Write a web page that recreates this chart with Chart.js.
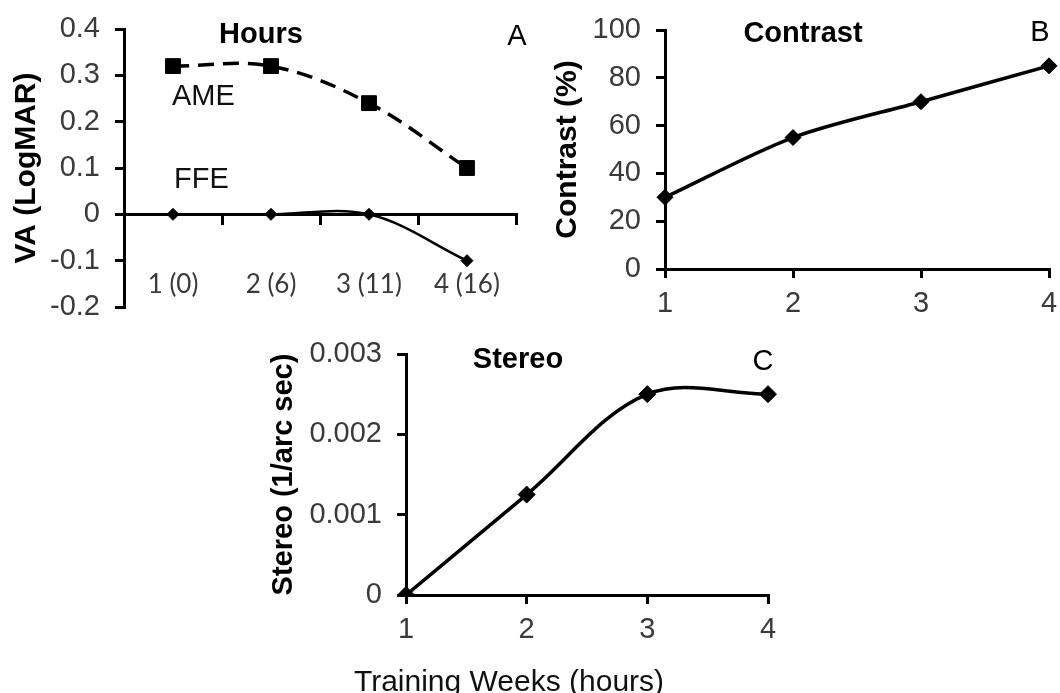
<!DOCTYPE html>
<html>
<head>
<meta charset="utf-8">
<script src="https://cdn.jsdelivr.net/npm/chart.js@4/dist/chart.umd.min.js"></script>
<style>
  html, body { margin: 0; padding: 0; background: #fff; }
  body { width: 1060px; height: 693px; position: relative; overflow: hidden; }
  canvas { position: absolute; }
  #cA { left: 0; top: 0; }
  #cB { left: 530px; top: 0; }
  #cC { left: 255px; top: 330px; }
</style>
</head>
<body>
<canvas id="cA" width="530" height="330"></canvas>
<canvas id="cB" width="530" height="330"></canvas>
<canvas id="cC" width="545" height="363"></canvas>
<script>
// ---- data ----
const weeksHours = ['1 (0)', '2 (6)', '3 (11)', '4 (16)'];
const ameVA = [0.32, 0.32, 0.24, 0.10];
const ffeVA = [0, 0, 0, -0.1];
const weeks = ['1', '2', '3', '4'];
const contrastPct = [30, 55, 70, 85];
const stereoInvArcSec = [0, 0.00125, 0.0025, 0.0025];
const vaRange = [-0.2, 0.4, 0.1];
const contrastRange = [0, 100, 20];
const stereoRange = [0, 0.003, 0.001];

// ---- styling ----
const FONT = "'Liberation Sans', Arial, sans-serif";
const TICK_COLOR = '#3a3a3a';
const textLabels = {
  id: 'textLabels',
  afterDraw(chart, args, opts) {
    const ctx = chart.ctx;
    ctx.save();
    (opts.items || []).forEach(it => {
      ctx.font = it.font;
      ctx.fillStyle = it.color || '#000';
      ctx.textAlign = it.align || 'center';
      ctx.textBaseline = 'middle';
      ctx.fillText(it.text, it.x, it.y);
    });
    ctx.restore();
  }
};

function axisGrid(extra) {
  return Object.assign({
    drawOnChartArea: false, drawTicks: true, tickLength: 9,
    lineWidth: 3, color: '#000'
  }, extra || {});
}
const border = { display: true, width: 3, color: '#000' };
const fmt = v => String(+Number(v).toFixed(4));
function fixSize(prop, val) {
  return s => {
    if (prop) s[prop] = val;
    s.paddingLeft = 0; s.paddingRight = 0; s.paddingTop = 0; s.paddingBottom = 0;
  };
}

// ---- Chart A ----
new Chart(document.getElementById('cA'), {
  type: 'line',
  data: {
    labels: weeksHours,
    datasets: [
      { label: 'AME', data: ameVA, borderColor: '#000', backgroundColor: '#000',
        borderWidth: 3.5, borderDash: [16, 9], tension: 0.35,
        pointStyle: 'rect', pointRadius: 10.5, pointBorderWidth: 1 },
      { label: 'FFE', data: ffeVA, borderColor: '#000', backgroundColor: '#000',
        borderWidth: 2.5, tension: 0.35,
        pointStyle: 'rectRot', pointRadius: 6, pointBorderWidth: 1 }
    ]
  },
  options: {
    responsive: false, animation: false,
    layout: { padding: { left: 0, top: 29, right: 14, bottom: 23 } },
    plugins: {
      legend: { display: false }, tooltip: { enabled: false },
      textLabels: { items: [
        { text: 'Hours', x: 261, y: 35, font: 'bold 29px ' + FONT },
        { text: 'A', x: 517, y: 37, font: '29px ' + FONT },
        { text: 'AME', x: 172, y: 97, font: '29px ' + FONT, align: 'left', color: '#111' },
        { text: 'FFE', x: 174, y: 180, font: '29px ' + FONT, align: 'left', color: '#111' }
      ] }
    },
    scales: {
      x: {
        type: 'category', offset: true, position: { y: 0 },
        grid: axisGrid({ offset: true }), border: border,
        ticks: { font: { family: "Lato, 'Open Sans', sans-serif", size: 26 }, color: TICK_COLOR, padding: 46 },
        afterFit: fixSize(null)
      },
      y: {
        min: vaRange[0], max: vaRange[1],
        grid: axisGrid(), border: border,
        ticks: { stepSize: vaRange[2], font: { family: FONT, size: 29 }, color: TICK_COLOR, padding: 15,
                 callback: v => fmt(Math.round(v * 10) / 10) },
        title: { display: true, text: 'VA (LogMAR)', color: '#000',
                 font: { family: FONT, size: 30, weight: 'bold' }, padding: { top: 9, bottom: 0 } },
        afterFit: fixSize('width', 124)
      }
    }
  },
  plugins: [textLabels]
});

// ---- Chart B ----
new Chart(document.getElementById('cB'), {
  type: 'line',
  data: {
    labels: weeks,
    datasets: [
      { label: 'Contrast', data: contrastPct, borderColor: '#000', backgroundColor: '#000',
        borderWidth: 3.5, tension: 0.3,
        pointStyle: 'rectRot', pointRadius: 8, pointBorderWidth: 1 }
    ]
  },
  options: {
    responsive: false, animation: false,
    layout: { padding: { left: 0, top: 30, right: 11, bottom: 0 } },
    plugins: {
      legend: { display: false }, tooltip: { enabled: false },
      textLabels: { items: [
        { text: 'Contrast', x: 273, y: 34, font: 'bold 29px ' + FONT },
        { text: 'B', x: 510, y: 33, font: '29px ' + FONT }
      ] }
    },
    scales: {
      x: {
        type: 'category', offset: false,
        grid: axisGrid(), border: border,
        ticks: { font: { family: FONT, size: 29 }, color: TICK_COLOR, padding: 9 },
        afterFit: fixSize('height', 61)
      },
      y: {
        min: contrastRange[0], max: contrastRange[1],
        grid: axisGrid(), border: border,
        ticks: { stepSize: contrastRange[2], font: { family: FONT, size: 29 }, color: TICK_COLOR, padding: 15,
                 callback: v => fmt(v) },
        title: { display: true, text: 'Contrast (%)', color: '#000',
                 font: { family: FONT, size: 30, weight: 'bold' }, padding: { top: 20, bottom: 0 } },
        afterFit: fixSize('width', 135)
      }
    }
  },
  plugins: [textLabels]
});

// ---- Chart C ----
new Chart(document.getElementById('cC'), {
  type: 'line',
  data: {
    labels: weeks,
    datasets: [
      { label: 'Stereo', data: stereoInvArcSec, borderColor: '#000', backgroundColor: '#000',
        borderWidth: 3.5, tension: 0.35,
        pointStyle: 'rectRot', pointRadius: 8.5, pointBorderWidth: 1 }
    ]
  },
  options: {
    responsive: false, animation: false,
    layout: { padding: { left: 0, top: 24, right: 32, bottom: 0 } },
    plugins: {
      legend: { display: false }, tooltip: { enabled: false },
      textLabels: { items: [
        { text: 'Stereo', x: 263, y: 30, font: 'bold 29px ' + FONT },
        { text: 'C', x: 508, y: 32, font: '29px ' + FONT },
        { text: 'Training Weeks (hours)', x: 254, y: 353, font: '30px ' + FONT, color: '#111' }
      ] }
    },
    scales: {
      x: {
        type: 'category', offset: false,
        grid: axisGrid(), border: border,
        ticks: { font: { family: FONT, size: 29 }, color: TICK_COLOR, padding: 9 },
        afterFit: fixSize('height', 98)
      },
      y: {
        min: stereoRange[0], max: stereoRange[1],
        grid: axisGrid(), border: border,
        ticks: { stepSize: stereoRange[2], font: { family: FONT, size: 29 }, color: TICK_COLOR, padding: 15,
                 callback: v => fmt(Math.round(v * 1000) / 1000) },
        title: { display: true, text: 'Stereo (1/arc sec)', color: '#000',
                 font: { family: FONT, size: 29, weight: 'bold' }, padding: { top: 12, bottom: 0 } },
        afterFit: fixSize('width', 151)
      }
    }
  },
  plugins: [textLabels]
});
</script>
</body>
</html>
